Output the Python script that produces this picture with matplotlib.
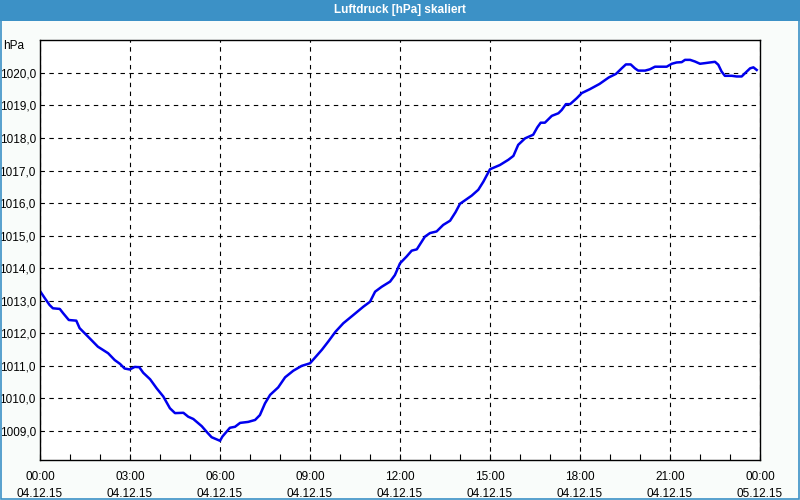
import matplotlib
matplotlib.use("Agg")
import matplotlib.pyplot as plt
from matplotlib.patches import Rectangle
from matplotlib.ticker import MultipleLocator

plt.rcParams["font.family"] = ["Liberation Sans", "DejaVu Sans"]

title = "Luftdruck [hPa] skaliert"
unit = "hPa"

hours = [0.0, 0.16, 0.32, 0.43, 0.66, 0.77, 0.96, 1.21, 1.32, 1.60, 1.93, 2.27, 2.49,
         2.67, 2.82, 2.99, 3.16, 3.31, 3.44, 3.67, 3.89, 4.11, 4.33, 4.50, 4.78, 4.94,
         5.11, 5.39, 5.58, 5.72, 6.00, 6.08, 6.33, 6.50, 6.67, 6.94, 7.17, 7.33, 7.50,
         7.67, 7.94, 8.17, 8.44, 8.72, 9.00, 9.22, 9.40, 9.61, 9.85, 10.11, 10.44,
         10.78, 11.00, 11.17, 11.39, 11.67, 11.83, 12.00, 12.22, 12.39, 12.56, 12.83,
         13.00, 13.22, 13.44, 13.67, 13.85, 14.00, 14.11, 14.39, 14.61, 14.78, 15.00,
         15.33, 15.61, 15.78, 15.94, 16.17, 16.44, 16.58, 16.69, 16.83, 17.06, 17.28,
         17.39, 17.53, 17.67, 17.89, 18.06, 18.33, 18.65, 18.96, 19.20, 19.39, 19.53,
         19.69, 19.83, 19.94, 20.17, 20.33, 20.50, 20.89, 21.06, 21.22, 21.39, 21.50,
         21.67, 21.83, 22.00, 22.17, 22.33, 22.50, 22.61, 22.72, 22.83, 23.06, 23.22,
         23.39, 23.50, 23.67, 23.78, 23.89]
pressure = [1013.30, 1013.08, 1012.87, 1012.77, 1012.75, 1012.62, 1012.41, 1012.39,
            1012.16, 1011.90, 1011.59, 1011.39, 1011.18, 1011.06, 1010.92, 1010.89,
            1010.97, 1010.96, 1010.79, 1010.59, 1010.31, 1010.06, 1009.70, 1009.55,
            1009.56, 1009.44, 1009.37, 1009.15, 1008.95, 1008.81, 1008.70, 1008.83,
            1009.10, 1009.13, 1009.25, 1009.28, 1009.34, 1009.49, 1009.85, 1010.11,
            1010.34, 1010.65, 1010.85, 1011.00, 1011.08, 1011.31, 1011.50, 1011.75,
            1012.05, 1012.31, 1012.56, 1012.82, 1012.97, 1013.28, 1013.43, 1013.59,
            1013.79, 1014.15, 1014.36, 1014.54, 1014.58, 1014.97, 1015.08, 1015.13,
            1015.33, 1015.46, 1015.72, 1015.98, 1016.05, 1016.23, 1016.41, 1016.66,
            1017.04, 1017.17, 1017.33, 1017.45, 1017.79, 1017.99, 1018.10, 1018.33,
            1018.47, 1018.47, 1018.68, 1018.76, 1018.86, 1019.04, 1019.04, 1019.22,
            1019.38, 1019.50, 1019.66, 1019.86, 1019.97, 1020.14, 1020.26, 1020.26,
            1020.14, 1020.07, 1020.07, 1020.11, 1020.19, 1020.19, 1020.28, 1020.32,
            1020.33, 1020.40, 1020.40, 1020.35, 1020.28, 1020.30, 1020.32, 1020.34,
            1020.25, 1020.04, 1019.91, 1019.91, 1019.89, 1019.89, 1019.99, 1020.14,
            1020.17, 1020.09]

xtick_pos = [0, 3, 6, 9, 12, 15, 18, 21, 24]
xtick_labels = ["00:00\n04.12.15", "03:00\n04.12.15", "06:00\n04.12.15",
                "09:00\n04.12.15", "12:00\n04.12.15", "15:00\n04.12.15",
                "18:00\n04.12.15", "21:00\n04.12.15", "00:00\n05.12.15"]
ytick_pos = [1009, 1010, 1011, 1012, 1013, 1014, 1015, 1016, 1017, 1018, 1019, 1020]
ytick_labels = ["1009,0", "1010,0", "1011,0", "1012,0", "1013,0", "1014,0",
                "1015,0", "1016,0", "1017,0", "1018,0", "1019,0", "1020,0"]

BAR = "#3c91c6"
BG = "#f9fcfa"

fig = plt.figure(figsize=(8, 5), dpi=100, facecolor=BG)

# title bar and border
fig.patches.append(Rectangle((0, 1 - 21 / 500), 1, 21 / 500, transform=fig.transFigure,
                             facecolor=BAR, edgecolor="none", zorder=0))
fig.patches.append(Rectangle((0.6 / 800, 0.6 / 500), 1 - 1.2 / 800, 1 - 1.2 / 500,
                             transform=fig.transFigure, facecolor="none",
                             edgecolor=BAR, linewidth=1.2, zorder=1))
fig.text(0.5, 1 - 10.5 / 500, title, color="white", fontsize=8.5, fontweight="bold",
         ha="center", va="center")

ax = fig.add_axes([40 / 800, 40 / 500, 720 / 800, 420 / 500])
ax.set_facecolor("white")
ax.plot(hours, pressure, color="#0000ee", linewidth=1.8, solid_joinstyle="round")

ax.set_xlim(0, 24)
ax.set_ylim(1008.11, 1021.01)

ax.set_xticks(xtick_pos)
ax.set_xticklabels(xtick_labels, fontsize=8.5, linespacing=1.5)
ax.xaxis.set_minor_locator(MultipleLocator(1))
ax.set_yticks(ytick_pos)
ax.set_yticklabels(ytick_labels, fontsize=8.5)

ax.tick_params(axis="x", which="both", direction="in", length=4, width=0.8,
               color="black", pad=8)
ax.tick_params(axis="y", which="both", length=0, pad=3)

ax.grid(True, which="major", color="black", linestyle=(0, (4, 4)), linewidth=0.8)

for s in ax.spines.values():
    s.set_color("black")
    s.set_linewidth(1.0)

fig.text(24 / 800, 1 - 46 / 500, unit, fontsize=8.5, ha="right", va="center")

fig.savefig("out.png", dpi=100, facecolor=BG)
